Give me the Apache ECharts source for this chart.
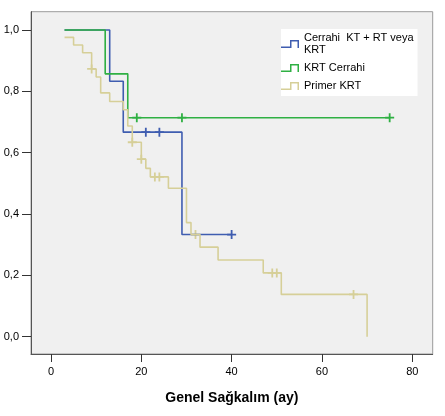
<!DOCTYPE html>
<html>
<head>
<meta charset="utf-8">
<script src="https://cdn.jsdelivr.net/npm/echarts@6/dist/echarts.min.js"></script>
<style>
html,body{margin:0;padding:0;background:#fff;}
#chart{width:445px;height:416px;}
</style>
</head>
<body>
<div id="chart"></div>
<script>
// ---- data ----
const xTicks = [0, 20, 40, 60, 80];
const yTicks = [0, 0.2, 0.4, 0.6, 0.8, 1.0];
const seriesNames = ['Cerrahi  KT + RT veya KRT', 'KRT Cerrahi', 'Primer KRT'];

const blueTimes = [3, 13, 16, 29, 40];
const blueSurv  = [1.0, 0.833, 0.667, 0.333, 0.333];
const blueCensorTimes = [21, 24, 40];
const blueCensorSurv  = [0.667, 0.667, 0.333];

const greenTimes = [3, 12, 17, 75];
const greenSurv  = [1.0, 0.857, 0.714, 0.714];
const greenCensorTimes = [19, 29, 75];
const greenCensorSurv  = [0.714, 0.714, 0.714];

const beigeTimes = [3, 5, 7, 9, 10, 11, 13, 16, 17, 18, 20, 21, 22, 26, 30, 31, 33, 37, 47, 51, 70];
const beigeSurv  = [0.976, 0.951, 0.926, 0.873, 0.847, 0.795, 0.767, 0.740, 0.687, 0.634, 0.579, 0.549, 0.521, 0.484, 0.372, 0.333, 0.292, 0.250, 0.208, 0.138, 0.0];
const beigeCensorTimes = [9, 18, 20, 23, 24, 32, 49, 50, 67];
const beigeCensorSurv  = [0.873, 0.634, 0.579, 0.521, 0.521, 0.333, 0.208, 0.208, 0.138];

// ---- styling ----
const colors = ['#3f5db0', '#2fb043', '#d6cf98'];
const zip = (a, b) => a.map((v, i) => [v, b[i]]);
const crossPath = 'path://M4,0 L6,0 L6,4 L10,4 L10,6 L6,6 L6,10 L4,10 L4,6 L0,6 L0,4 L4,4 Z';
const stepIcon = 'path://M0,6.5 L10.5,6.5 L10.5,8 L0,8 Z M9,0 L10.5,0 L10.5,8 L9,8 Z M9,0 L18,0 L18,1.5 L9,1.5 Z M16.5,0 L18,0 L18,8 L16.5,8 Z';

function lineSeries(name, times, surv, color) {
  return {
    name: name, type: 'line', step: 'end', data: zip(times, surv),
    showSymbol: false, symbol: 'none', silent: true,
    lineStyle: { color: color, width: 1.6 }, itemStyle: { color: color }
  };
}
function censorSeries(name, times, surv, color) {
  return {
    name: name + ' censor', type: 'scatter', data: zip(times, surv),
    symbol: crossPath, symbolSize: [9, 9], silent: true,
    itemStyle: { color: color, opacity: 1 }
  };
}

const chart = echarts.init(document.getElementById('chart'), null, { renderer: 'canvas' });
chart.setOption({
  animation: false,
  backgroundColor: '#ffffff',
  textStyle: { fontFamily: 'Liberation Sans, Arial, sans-serif' },
  grid: {
    left: 31, right: 12.3, top: 11.7, bottom: 62,
    show: true, backgroundColor: '#f0f0f0', borderColor: '#9a9a9a', borderWidth: 1
  },
  legend: {
    data: seriesNames.map(n => ({ name: n, icon: stepIcon })),
    orient: 'vertical', left: 281, top: 29,
    backgroundColor: '#ffffff', padding: [3, 4, 4, 0],
    itemWidth: 18, itemHeight: 8, itemGap: 6,
    formatter: n => n === seriesNames[0] ? 'Cerrahi  KT + RT veya\nKRT' : n,
    textStyle: { fontSize: 11, color: '#000', lineHeight: 12, fontFamily: 'Liberation Sans, Arial, sans-serif', padding: [0, 0, 0, 0] },
    selectedMode: false
  },
  xAxis: {
    type: 'value', min: -4.43, max: 84.53,
    name: 'Genel Sağkalım (ay)', nameLocation: 'middle', nameGap: 37,
    nameTextStyle: { fontSize: 14, fontWeight: 'bold', color: '#000' },
    axisLine: { show: true, onZero: false, lineStyle: { color: '#555', width: 1 } },
    axisTick: { show: true, length: 8, customValues: xTicks, lineStyle: { color: '#333' } },
    axisLabel: { customValues: xTicks, fontSize: 11, color: '#000', margin: 12, formatter: v => String(v) },
    splitLine: { show: false }
  },
  yAxis: {
    type: 'value', min: -0.0564, max: 1.0597,
    axisLine: { show: true, onZero: false, lineStyle: { color: '#555', width: 1 } },
    axisTick: { show: true, length: 9, customValues: yTicks, lineStyle: { color: '#333' } },
    axisLabel: { customValues: yTicks, fontSize: 11, color: '#000', margin: 12, formatter: v => v.toFixed(1).replace('.', ',') },
    splitLine: { show: false }
  },
  series: [
    lineSeries(seriesNames[0], blueTimes, blueSurv, colors[0]),
    censorSeries(seriesNames[0], blueCensorTimes, blueCensorSurv, colors[0]),
    lineSeries(seriesNames[1], greenTimes, greenSurv, colors[1]),
    censorSeries(seriesNames[1], greenCensorTimes, greenCensorSurv, colors[1]),
    lineSeries(seriesNames[2], beigeTimes, beigeSurv, colors[2]),
    censorSeries(seriesNames[2], beigeCensorTimes, beigeCensorSurv, colors[2])
  ]
});
</script>
</body>
</html>
